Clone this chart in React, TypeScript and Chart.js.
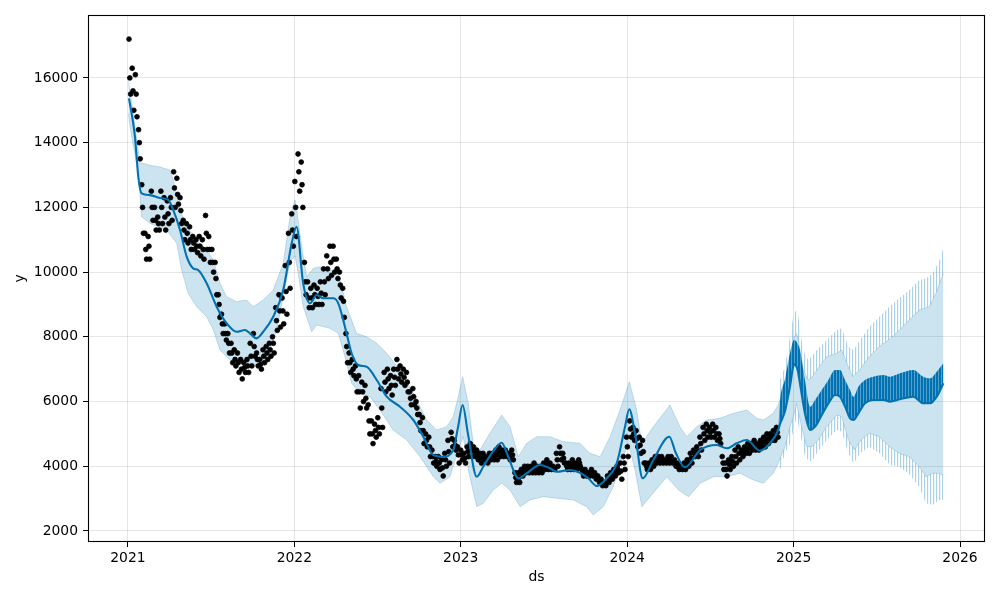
import React, { useEffect, useRef } from "react";
import { Chart, registerables } from "chart.js";

Chart.register(...registerables);

// Axis ticks
const xTicks = [2021, 2022, 2023, 2024, 2025, 2026];
const yTicks = [2000, 4000, 6000, 8000, 10000, 12000, 14000, 16000];

// Forecast (yhat) — dates in decimal years, history + future weekday level
const yhatDates = [
  2021.006, 2021.022, 2021.042, 2021.052, 2021.062, 2021.082, 2021.132, 2021.192, 2021.242, 2021.272,
  2021.313, 2021.353, 2021.392, 2021.422, 2021.473, 2021.533, 2021.593, 2021.653, 2021.703, 2021.733,
  2021.773, 2021.813, 2021.873, 2021.933, 2021.984, 2022.013, 2022.053, 2022.094, 2022.134, 2022.174,
  2022.234, 2022.264, 2022.304, 2022.344, 2022.384, 2022.434, 2022.495, 2022.555, 2022.635, 2022.715,
  2022.775, 2022.835, 2022.895, 2022.955, 2022.983, 2023.011, 2023.043, 2023.096, 2023.135, 2023.193,
  2023.246, 2023.285, 2023.346, 2023.396, 2023.476, 2023.536, 2023.576, 2023.656, 2023.716, 2023.766,
  2023.817, 2023.877, 2023.937, 2023.987, 2024.012, 2024.047, 2024.093, 2024.157, 2024.253, 2024.293,
  2024.347, 2024.438, 2024.538, 2024.598, 2024.658, 2024.718, 2024.798, 2024.858, 2024.908,
  2024.918, 2024.948, 2024.978, 2025.003, 2025.023, 2025.038, 2025.068, 2025.099, 2025.129, 2025.169,
  2025.209, 2025.249, 2025.279, 2025.309, 2025.339, 2025.359, 2025.389, 2025.429, 2025.479, 2025.539,
  2025.579, 2025.639, 2025.719, 2025.779, 2025.820, 2025.860, 2025.900,
];
const yhatValues = [
  15370, 14906, 14185, 13567, 12950, 12435, 12380, 12290, 12230, 11920,
  11300, 10476, 10117, 10065, 9654, 8931, 8416, 8157, 8210, 8106,
  7952, 8157, 8620, 9447, 10890, 11400, 9654, 9036, 9292, 9190,
  9190, 9036, 8314, 7492, 7130, 7077, 6666, 6150, 5842, 5430,
  4914, 4348, 4296, 4503, 5200, 5893, 5000, 3678, 3987, 4450,
  4729, 4296, 3629, 3783, 4039, 3937, 3832, 3885, 3802, 3629,
  3390, 3629, 4093, 5223, 5760, 5019, 3629, 4194, 4914, 4400,
  3968, 4503, 4657, 4555, 4710, 4812, 4482, 4710, 5121,
  5300, 5700, 6459, 7150, 7000, 6564, 5637, 5121, 5223, 5584,
  5946, 6202, 6150, 5842, 5482, 5430, 5637, 5946, 6048, 6048,
  5996, 6069, 6150, 5946, 5946, 6150, 6564,
];

// Future weekend level of yhat (top of the weekly oscillation)
const weekendDates = [
  2024.908, 2024.918, 2024.948, 2024.978, 2025.003, 2025.023, 2025.038, 2025.068, 2025.099, 2025.129,
  2025.169, 2025.209, 2025.249, 2025.279, 2025.309, 2025.339, 2025.359, 2025.389, 2025.429, 2025.479,
  2025.539, 2025.579, 2025.639, 2025.719, 2025.779, 2025.820, 2025.860, 2025.900,
];
const weekendValues = [
  5121, 6000, 6700, 7492, 7900, 7800, 7593, 6666, 5842, 6048,
  6357, 6666, 6975, 6975, 6666, 6357, 6150, 6459, 6666, 6769,
  6820, 6769, 6873, 6975, 6769, 6717, 6924, 7182,
];

// Uncertainty interval upper bound
const upperDates = [
  2021.003, 2021.032, 2021.072, 2021.092, 2021.132, 2021.192, 2021.252, 2021.272, 2021.313, 2021.353,
  2021.413, 2021.473, 2021.513, 2021.553, 2021.593, 2021.653, 2021.713, 2021.753, 2021.813, 2021.873,
  2021.933, 2021.974, 2022.004, 2022.023, 2022.044, 2022.074, 2022.114, 2022.154, 2022.194, 2022.254,
  2022.274, 2022.314, 2022.374, 2022.434, 2022.495, 2022.555, 2022.635, 2022.715, 2022.795, 2022.855,
  2022.915, 2022.955, 2022.985, 2023.011, 2023.045, 2023.075, 2023.115, 2023.175, 2023.246, 2023.296,
  2023.346, 2023.396, 2023.456, 2023.536, 2023.616, 2023.716, 2023.776, 2023.837, 2023.897, 2023.957,
  2024.013, 2024.057, 2024.088, 2024.157, 2024.257, 2024.317, 2024.358, 2024.418, 2024.478, 2024.558,
  2024.638, 2024.718, 2024.778, 2024.818, 2024.878, 2024.908,
  2024.948, 2024.978, 2025.003, 2025.018, 2025.028, 2025.048, 2025.058, 2025.088, 2025.109, 2025.139,
  2025.199, 2025.259, 2025.289, 2025.329, 2025.355, 2025.395, 2025.455, 2025.515, 2025.595, 2025.675,
  2025.755, 2025.815, 2025.855, 2025.900,
];
const upperValues = [
  15900, 14907, 13362, 13362, 13300, 13250, 13155, 12846, 11920, 11403,
  10992, 10683, 10374, 9654, 9242, 9087, 9138, 8931, 9138, 9447,
  10272, 11712, 12230, 11610, 10786, 9860, 10117, 10167, 10065, 10065,
  9756, 8931, 8108, 8004, 7800, 7492, 6975, 6255, 5430, 5121,
  5223, 5532, 6150, 6769, 5946, 4710, 4503, 5019, 5584, 5223,
  4296, 4710, 4914, 4914, 4760, 4710, 4400, 4296, 4914, 5739,
  6615, 5739, 4700, 5223, 5893, 5223, 4914, 5223, 5430, 5482,
  5637, 5739, 5482, 5430, 5637, 5900,
  6564, 7100, 8004, 8100, 7902, 7300, 6975, 6666, 6750, 6975,
  7386, 7492, 7593, 7077, 6769, 6975, 7386, 7695, 8004, 8416,
  8828, 8930, 9345, 9963,
];

// Uncertainty interval lower bound
const lowerDates = [
  2021.003, 2021.012, 2021.062, 2021.082, 2021.132, 2021.233, 2021.293, 2021.323, 2021.362, 2021.413,
  2021.473, 2021.513, 2021.553, 2021.613, 2021.673, 2021.733, 2021.793, 2021.853, 2021.894, 2021.933,
  2021.974, 2022.004, 2022.023, 2022.053, 2022.104, 2022.134, 2022.214, 2022.264, 2022.304, 2022.344,
  2022.394, 2022.454, 2022.514, 2022.594, 2022.675, 2022.755, 2022.835, 2022.875, 2022.935, 2022.985,
  2023.015, 2023.045, 2023.096, 2023.135, 2023.195, 2023.246, 2023.296, 2023.356, 2023.416, 2023.496,
  2023.576, 2023.676, 2023.756, 2023.796, 2023.856, 2023.916, 2023.976, 2024.007, 2024.047, 2024.088,
  2024.138, 2024.238, 2024.308, 2024.369, 2024.438, 2024.519, 2024.598, 2024.678, 2024.758, 2024.818,
  2024.878, 2024.908,
  2024.948, 2024.978, 2025.003, 2025.018, 2025.028, 2025.048, 2025.078, 2025.109, 2025.149, 2025.199,
  2025.259, 2025.289, 2025.329, 2025.365, 2025.405, 2025.455, 2025.515, 2025.575, 2025.635, 2025.695,
  2025.755, 2025.795, 2025.835, 2025.875, 2025.900,
];
const lowerValues = [
  14900, 14494, 13053, 11712, 11506, 11300, 10890, 10065, 9345, 8931,
  8622, 8211, 7593, 7284, 7180, 7180, 7077, 7593, 8211, 9242,
  10300, 10500, 9963, 8931, 8157, 8365, 8262, 8108, 7386, 6564,
  6255, 6150, 5739, 5121, 4812, 4296, 3678, 3474, 3678, 4503,
  4914, 3885, 2751, 2854, 3267, 3474, 3267, 2751, 2958, 3061,
  3010, 2958, 2751, 2494, 2751, 3369, 4296, 4710, 3885, 2751,
  3061, 3678, 3267, 3061, 3474, 3678, 3678, 3783, 3576, 3474,
  3783, 4100,
  4600, 5223, 5600, 5946, 5700, 5223, 4605, 4605, 4812, 5223,
  5584, 5532, 4812, 4503, 4812, 5019, 4914, 4605, 4400, 4296,
  3987, 3678, 3783, 3783, 3730,
];

// Weekend extremes of the future interval
const spikeDates = [
  2024.908, 2024.918, 2024.948, 2024.978, 2025.003, 2025.018, 2025.028, 2025.048, 2025.068, 2025.088,
  2025.109, 2025.139, 2025.199, 2025.259, 2025.289, 2025.329, 2025.360, 2025.400, 2025.455, 2025.515,
  2025.580, 2025.635, 2025.690, 2025.755, 2025.795, 2025.835, 2025.875, 2025.900,
];
const spikeUpperValues = [
  5900, 6666, 7077, 8000, 8776, 8800, 8622, 7900, 7450, 7284,
  7400, 7593, 7902, 8211, 8262, 7695, 7593, 7902, 8313, 8622,
  8950, 9200, 9420, 9756, 9800, 9950, 10350, 10735,
];
const spikeLowerValues = [
  4100, 3885, 4400, 4710, 5200, 5532, 5300, 4812, 4300, 4194,
  4142, 4400, 4812, 5121, 5069, 4400, 4092, 4400, 4605, 4400,
  4039, 3987, 3783, 3369, 2856, 2803, 2958, 2958,
];

// Observations: weekly high / middle / low readings, weeks starting 2021-01-02
const obsStart = 2021.005;
const obsHigh = [
  17200, 16300, 16100, 14400, 12700, 11200, 11100, 12500, 12000, 11700,
  12500, 12300, 12200, 12300, 13100, 12900, 12300, 11600, 11500, 11400,
  11100, 11000, 11100, 11000, 11750, 11100, 10700, 10300, 9300, 8700,
  8400, 8100, 7800, 7600, 7500, 7300, 7200, 7300, 7800, 8100,
  7500, 7300, 7600, 7700, 7800, 8000, 8900, 9300, 9200, 10200,
  11200, 11800, 12800, 13650, 13400, 10300, 9700, 9500, 9600, 9500,
  9700, 10100, 10500, 10800, 10800, 10400, 10000, 9500, 8100, 7500,
  7300, 7100, 6800, 6600, 6500, 5900, 5400, 5300, 5500, 6400,
  6900, 7000, 6800, 7000, 7300, 7100, 7000, 6900, 6300, 6400,
  6000, 5600, 5500, 5000, 4900, 4500, 4300, 4300, 4200, 4400,
  4800, 5050, 4800, 4600, 4500, 4400, 4600, 4700, 4600, 4500,
  4400, 4400, 4300, 4400, 4400, 4500, 4600, 4500, 4500, 4400,
  4500, 3800, 3800, 3900, 4000, 4000, 4000, 4100, 4000, 4000,
  4100, 4200, 4100, 4000, 4400, 4600, 4400, 4100, 4100, 4200,
  4100, 4200, 3900, 3900, 3800, 3900, 3800, 3700, 3600, 3500,
  3700, 3800, 3900, 4000, 4100, 4300, 4900, 5400, 5200, 5100,
  4900, 4800, 4100, 4100, 4200, 4300, 4300, 4300, 4200, 4300,
  4300, 4200, 4100, 4000, 4100, 4200, 4400, 4500, 4600, 4900,
  5200, 5300, 5200, 5300, 5200, 5000, 4300, 4100, 4200, 4300,
  4500, 4600, 4500, 4600, 4700, 4700, 4800, 4700, 4800, 4900,
  5000, 5000, 5100, 5200,
];
const obsMid = [
  16000, 15600, 15500, 14000, 12000, 10700, 10800, 12000, 11600, 11500,
  12000, 11700, 11800, 12000, 12600, 12400, 11900, 11300, 11200, 11000,
  10900, 10800, 10800, 10700, 11200, 10700, 10300, 9800, 9000, 8400,
  8100, 7800, 7500, 7300, 7200, 7000, 7050, 7100, 7400, 7700,
  7300, 7150, 7400, 7500, 7600, 7800, 8500, 8800, 8800, 9400,
  10300, 11300, 12000, 13100, 12700, 9700, 9200, 9200, 9300, 9250,
  9350, 9700, 10100, 10300, 10400, 10100, 9600, 9100, 7700, 7200,
  7000, 6700, 6300, 6300, 6100, 5400, 5000, 5100, 5200, 5800,
  6600, 6700, 6500, 6750, 7000, 6850, 6750, 6600, 6100, 6150,
  5800, 5350, 5100, 4800, 4600, 4300, 4150, 4100, 3950, 4200,
  4450, 4850, 4650, 4350, 4350, 4250, 4450, 4500, 4450, 4350,
  4250, 4300, 4200, 4300, 4300, 4350, 4450, 4400, 4400, 4300,
  4350, 3650, 3650, 3800, 3900, 3900, 3900, 3950, 3900, 3900,
  4000, 4050, 4000, 3950, 4200, 4400, 4250, 4000, 4000, 4050,
  4000, 4100, 3800, 3800, 3750, 3800, 3700, 3600, 3500, 3450,
  3600, 3700, 3800, 3900, 3850, 4100, 4600, 5150, 5000, 4850,
  4650, 4450, 4000, 4000, 4100, 4200, 4200, 4200, 4150, 4200,
  4200, 4100, 4000, 3950, 4000, 4100, 4250, 4400, 4450, 4700,
  5000, 5100, 5050, 5100, 5000, 4850, 4100, 3900, 4050, 4150,
  4300, 4400, 4400, 4500, 4550, 4600, 4650, 4600, 4700, 4750,
  4850, 4900, 4950, 5050,
];
const obsLow = [
  15500, 15000, 14800, 13500, 11200, 10400, 10400, 11600, 11300, 11300,
  11500, 11300, 11500, 11600, 12000, 12100, 11500, 11000, 10900, 10700,
  10700, 10600, 10500, 10400, 10700, 10300, 10000, 9300, 8600, 8100,
  7900, 7500, 7200, 7100, 6900, 6700, 6900, 6900, 7100, 7400,
  7100, 7000, 7200, 7300, 7400, 7500, 8200, 8300, 8400, 8700,
  9500, 10800, 11100, 12500, 12000, 9300, 8900, 8900, 9000, 9000,
  9000, 9300, 9800, 9900, 10000, 9800, 9200, 8600, 7200, 6900,
  6800, 6300, 5800, 6000, 5800, 5000, 4700, 4900, 5000, 5200,
  6300, 6400, 6200, 6500, 6700, 6600, 6500, 6300, 5900, 5900,
  5600, 5100, 4700, 4600, 4300, 4100, 4000, 3900, 3700, 4000,
  4100, 4600, 4500, 4100, 4200, 4100, 4300, 4300, 4300, 4200,
  4100, 4200, 4100, 4200, 4200, 4200, 4300, 4300, 4300, 4200,
  4200, 3500, 3500, 3700, 3800, 3800, 3800, 3800, 3800, 3800,
  3900, 3900, 3900, 3900, 4000, 4200, 4100, 3900, 3900, 3900,
  3900, 4000, 3700, 3700, 3700, 3700, 3600, 3500, 3400, 3400,
  3500, 3600, 3700, 3800, 3600, 3900, 4300, 4900, 4800, 4600,
  4400, 4100, 3900, 3900, 4000, 4100, 4100, 4100, 4100, 4100,
  4100, 4000, 3900, 3900, 3900, 4000, 4100, 4300, 4300, 4500,
  4800, 4900, 4900, 4900, 4800, 4700, 3900, 3700, 3900, 4000,
  4100, 4200, 4300, 4400, 4400, 4500, 4500, 4500, 4600, 4600,
  4700, 4800, 4800, 4900,
];

const BLUE = "#0072B2";
const BAND = "rgba(0,114,178,0.2)";
const FONT = "'DejaVu Sans', sans-serif";

function pts(ts: number[], vs: number[]) {
  return ts.map((t, i) => ({ x: t, y: vs[i] }));
}

// vertical stripe texture (weekly oscillation look)
function stripes(cols: string[]): CanvasPattern | string {
  const c = document.createElement("canvas");
  c.width = cols.length;
  c.height = 1;
  const g = c.getContext("2d");
  if (!g) return cols[0];
  cols.forEach((col, i) => {
    g.fillStyle = col;
    g.fillRect(i, 0, 1, 1);
  });
  const p = g.createPattern(c, "repeat");
  return p || cols[0];
}

const framePlugin = {
  id: "frame",
  afterDatasetsDraw(chart: any) {
    const { ctx, chartArea } = chart;
    const { left, top, right, bottom } = chartArea;
    ctx.save();
    ctx.strokeStyle = "#000";
    ctx.lineWidth = 1.1;
    ctx.strokeRect(left + 0.5, top + 0.5, right - left - 1, bottom - top - 1);
    ctx.restore();
  },
};

export default function App() {
  const ref = useRef<HTMLCanvasElement | null>(null);

  useEffect(() => {
    if (!ref.current) return;
    const obsPoints: { x: number; y: number }[] = [];
    obsHigh.forEach((v, k) => {
      obsPoints.push({ x: obsStart + (7 * k + 0.5) / 365.25, y: v });
      obsPoints.push({ x: obsStart + (7 * k + 2.3) / 365.25, y: obsMid[k] });
      obsPoints.push({ x: obsStart + (7 * k + 4.1) / 365.25, y: obsLow[k] });
    });

    const ribbonFill = stripes([BLUE, BLUE, "rgba(0,114,178,0.6)"]);
    const spikeFill = stripes(["rgba(0,114,178,0.33)", "rgba(0,114,178,0.06)", "rgba(0,114,178,0)"]);

    const tickFont = { family: FONT, size: 13.9 };
    const chart = new Chart(ref.current, {
      type: "line",
      data: {
        datasets: [
          {
            label: "yhat",
            data: pts(yhatDates, yhatValues),
            borderColor: BLUE,
            borderWidth: 2.1,
            pointRadius: 0,
            fill: false,
            cubicInterpolationMode: "monotone",
          },
          {
            label: "weekend",
            data: pts(weekendDates, weekendValues),
            borderColor: "rgba(0,114,178,0)",
            borderWidth: 0,
            pointRadius: 0,
            fill: { target: 0 },
            backgroundColor: ribbonFill,
            cubicInterpolationMode: "monotone",
          },
          {
            label: "y",
            data: obsPoints,
            showLine: false,
            pointRadius: 2.4,
            pointBorderWidth: 0.8,
            pointBackgroundColor: "#000",
            pointBorderColor: "#000",
            borderWidth: 0,
          },
          {
            label: "upper",
            data: pts(upperDates, upperValues),
            borderColor: BAND,
            borderWidth: 1,
            pointRadius: 0,
            fill: { target: 4 },
            backgroundColor: BAND,
          },
          {
            label: "lower",
            data: pts(lowerDates, lowerValues),
            borderColor: BAND,
            borderWidth: 1,
            pointRadius: 0,
            fill: false,
          },
          {
            label: "spikeUpper",
            data: pts(spikeDates, spikeUpperValues),
            borderColor: "rgba(0,114,178,0)",
            borderWidth: 0,
            pointRadius: 0,
            fill: { target: 3 },
            backgroundColor: spikeFill,
          },
          {
            label: "spikeLower",
            data: pts(spikeDates, spikeLowerValues),
            borderColor: "rgba(0,114,178,0)",
            borderWidth: 0,
            pointRadius: 0,
            fill: { target: 4 },
            backgroundColor: spikeFill,
          },
        ],
      },
      options: {
        animation: false,
        responsive: false,
        devicePixelRatio: 1,
        layout: { padding: { top: 15, right: 15, left: 0, bottom: 0 } },
        plugins: { legend: { display: false }, tooltip: { enabled: false } },
        scales: {
          x: {
            type: "linear",
            min: 2020.76,
            max: 2026.15,
            afterBuildTicks: (s: any) => {
              s.ticks = xTicks.map((v) => ({ value: v }));
            },
            afterFit: (s: any) => {
              s.height = 58;
            },
            ticks: {
              callback: (v: any) => String(v),
              font: tickFont,
              color: "#000",
              padding: 3,
              maxRotation: 0,
              autoSkip: false,
            },
            grid: {
              color: "rgba(128,128,128,0.2)",
              lineWidth: 1,
              tickColor: "#000",
              tickLength: 5,
              tickWidth: 1,
            },
            border: { display: false },
            title: {
              display: true,
              text: "ds",
              font: tickFont,
              color: "#000",
              padding: { top: 0, bottom: 14.6 },
            },
          },
          y: {
            type: "linear",
            min: 1660,
            max: 17945,
            afterBuildTicks: (s: any) => {
              s.ticks = yTicks.map((v) => ({ value: v }));
            },
            afterFit: (s: any) => {
              s.width = 88;
            },
            ticks: {
              callback: (v: any) => String(v),
              font: tickFont,
              color: "#000",
              padding: 5,
              autoSkip: false,
            },
            grid: {
              color: "rgba(128,128,128,0.2)",
              lineWidth: 1,
              tickColor: "#000",
              tickLength: 5,
              tickWidth: 1,
            },
            border: { display: false },
            title: {
              display: true,
              text: "y",
              font: tickFont,
              color: "#000",
              padding: { top: 11.6, bottom: 0 },
            },
          },
        },
      },
      plugins: [framePlugin],
    } as any);
    return () => chart.destroy();
  }, []);

  return (
    <div style={{ position: "fixed", left: 0, top: 0, width: 1000, height: 600, background: "#fff" }}>
      <canvas ref={ref} width={1000} height={600} style={{ display: "block" }} />
    </div>
  );
}
